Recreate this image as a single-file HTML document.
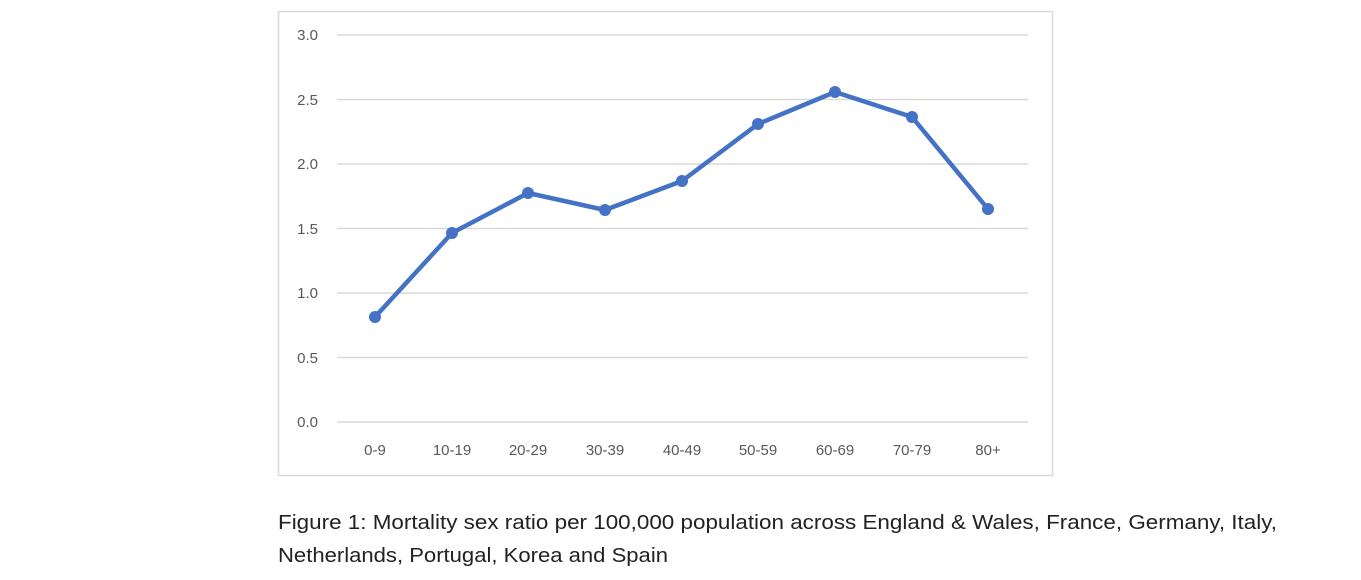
<!DOCTYPE html>
<html><head><style>body{margin:0;background:#fff}svg{display:block}</style></head>
<body>
<svg width="1361" height="580" xmlns="http://www.w3.org/2000/svg" font-family="Liberation Sans, sans-serif">
<rect x="278.5" y="11.5" width="774" height="464" fill="#fff" stroke="#d9d9d9" stroke-width="1.5"/>
<g stroke="#d9d9d9" stroke-width="1.5">
<line x1="337" x2="1028" y1="35" y2="35"/>
<line x1="337" x2="1028" y1="99.5" y2="99.5"/>
<line x1="337" x2="1028" y1="164" y2="164"/>
<line x1="337" x2="1028" y1="228.5" y2="228.5"/>
<line x1="337" x2="1028" y1="293" y2="293"/>
<line x1="337" x2="1028" y1="357.5" y2="357.5"/>
<line x1="337" x2="1028" y1="422" y2="422"/>
</g>
<g fill="#595959" font-size="15" text-anchor="end">
<text x="318" y="40">3.0</text><text x="318" y="105">2.5</text><text x="318" y="169">2.0</text>
<text x="318" y="234">1.5</text><text x="318" y="298">1.0</text><text x="318" y="363">0.5</text><text x="318" y="427">0.0</text>
</g>
<g fill="#595959" font-size="15" text-anchor="middle">
<text x="375" y="455">0-9</text><text x="452" y="455">10-19</text><text x="528" y="455">20-29</text>
<text x="605" y="455">30-39</text><text x="682" y="455">40-49</text><text x="758" y="455">50-59</text>
<text x="835" y="455">60-69</text><text x="912" y="455">70-79</text><text x="988" y="455">80+</text>
</g>
<polyline fill="none" stroke="#4472c4" stroke-width="4.5" stroke-linejoin="round" points="375,317 452,233 528,193 605,210 682,181 758,124 835,92 912,117 988,209"/>
<g fill="#4472c4">
<circle cx="375" cy="317" r="6"/><circle cx="452" cy="233" r="6"/><circle cx="528" cy="193" r="6"/>
<circle cx="605" cy="210" r="6"/><circle cx="682" cy="181" r="6"/><circle cx="758" cy="124" r="6"/>
<circle cx="835" cy="92" r="6"/><circle cx="912" cy="117" r="6"/><circle cx="988" cy="209" r="6"/>
</g>
<g fill="#222" font-size="20">
<text x="278" y="529" textLength="999" lengthAdjust="spacingAndGlyphs">Figure 1: Mortality sex ratio per 100,000 population across England &amp; Wales, France, Germany, Italy,</text>
<text x="278" y="562" textLength="390" lengthAdjust="spacingAndGlyphs">Netherlands, Portugal, Korea and Spain</text>
</g>
</svg>
</body></html>
